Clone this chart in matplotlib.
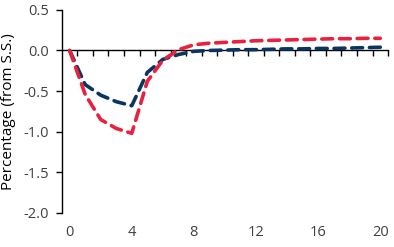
import matplotlib
matplotlib.use("Agg")
import matplotlib.pyplot as plt
import numpy as np

periods = list(range(21))
red = [0.0, -0.54, -0.85, -0.96, -1.02, -0.38, -0.12, 0.01, 0.07, 0.09, 0.10,
       0.11, 0.12, 0.125, 0.13, 0.135, 0.14, 0.145, 0.145, 0.15, 0.15]
blue = [0.0, -0.42, -0.55, -0.63, -0.68, -0.27, -0.11, -0.05, -0.01, 0.0, 0.005,
        0.01, 0.01, 0.015, 0.02, 0.02, 0.025, 0.025, 0.03, 0.035, 0.04]
xtick_vals = [0, 4, 8, 12, 16, 20]
ytick_vals = [0.5, 0.0, -0.5, -1.0, -1.5, -2.0]
ylabel = "Percentage (from S.S.)"

plt.rcParams['font.family'] = ['Open Sans', 'DejaVu Sans']
txt = '#404040'

fig = plt.figure(figsize=(3.94, 2.47), dpi=100)
ax = fig.add_axes([0.157, 0.138, 0.828, 0.822])

ax.plot(periods, blue, color='#0b3561', lw=2.6, dashes=(3.0, 1.9), dash_capstyle='round', zorder=3)
ax.plot(periods, red, color='#e8213f', lw=2.6, dashes=(3.0, 1.9), dash_capstyle='round', zorder=4)

ax.set_xlim(-0.5, 20.5)
ax.set_ylim(-2.0, 0.5)
ax.set_yticks(ytick_vals)
ax.set_yticklabels([f"{v:.1f}" for v in ytick_vals])

# zero axis line with category tick marks (no labels)
for s in ['top', 'right']:
    ax.spines[s].set_visible(False)
ax.spines['bottom'].set_position(('data', 0))
ax.spines['bottom'].set_linewidth(1.0)
ax.spines['left'].set_linewidth(1.0)
ax.set_xticks(np.arange(0.5, 21, 1.0))
ax.set_xticklabels([])
ax.tick_params(axis='x', direction='out', length=4, width=1, colors='black')
ax.tick_params(axis='y', direction='out', length=4.5, width=1, colors='black', labelcolor=txt, labelsize=10.5, pad=4.5)

# category labels at the bottom
ax2 = ax.twiny()
ax2.set_xlim(ax.get_xlim())
ax2.xaxis.set_ticks_position('bottom')
ax2.set_xticks(xtick_vals)
ax2.set_xticklabels([str(v) for v in xtick_vals])
ax2.tick_params(axis='x', length=0, labelcolor=txt, labelsize=10.5, pad=9)
for s in ax2.spines.values():
    s.set_visible(False)

fig.text(9 / 394, 1 - 111.5 / 247, ylabel, rotation=90, ha='center', va='center',
         color='black', fontsize=11)

fig.savefig('out.png', dpi=100)
